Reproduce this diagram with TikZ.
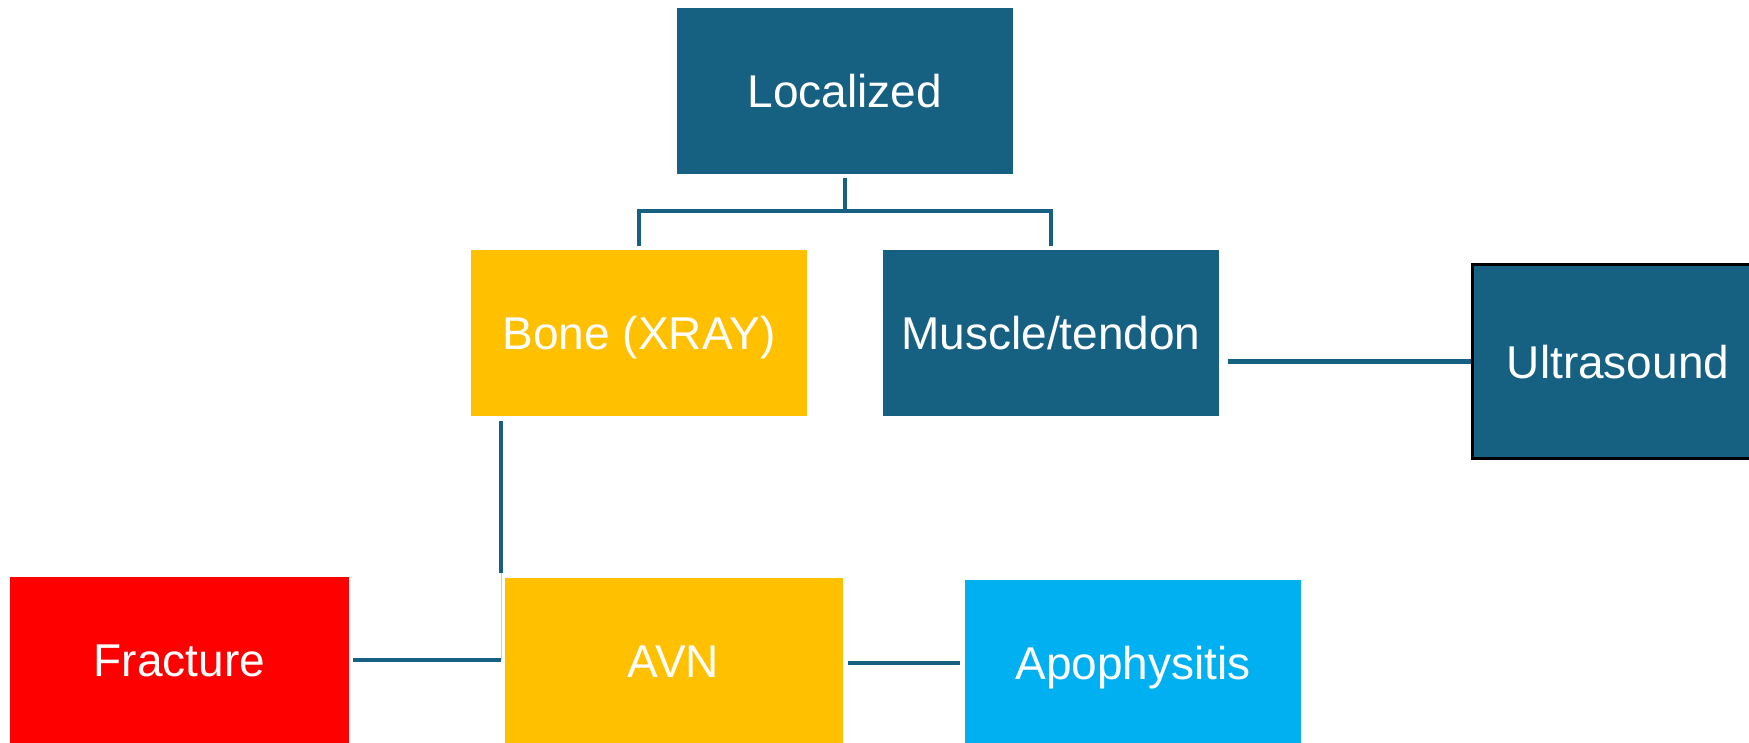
\documentclass[tikz,border=0pt]{standalone}
\usepackage{fontspec}
\setmainfont{Liberation Sans}
\definecolor{darkteal}{RGB}{22,96,130}
\definecolor{amber}{RGB}{255,192,0}
\definecolor{skyblue}{RGB}{0,176,240}

\begin{document}
\begin{tikzpicture}[x=1pt,y=-1pt]
        \tikzset{box/.style = {shape=rectangle,inner sep=0pt,minimum width=336pt,minimum height=166pt,text=white,text height=33pt,text depth=0pt,font=\fontsize{46}{55}\selectfont}}
        \tikzset{edge/.style = {draw=darkteal, line width=4.5pt}}
        \clip (0,0) rectangle (1749,742);
        % vertices
        \node[box, fill=darkteal] (localized) at (845,91) {Localized};
        \node[box, fill=amber] (bonexray) at (639,333) {Bone (XRAY)};
        \node[box, fill=darkteal] (muscletendon) at (1051,333) {Muscle/tendon};
        \node[box, fill=darkteal, draw=black, line width=3pt, minimum width=291pt, minimum height=194pt] (ultrasound) at (1618,361.5) {Ultrasound};
        \node[box, fill=red, minimum width=339pt] (fracture) at (179.5,660) {Fracture};
        \node[box, fill=amber, minimum width=338pt] (avn) at (673.5,661) {AVN};
        \node[box, fill=skyblue] (apophysitis) at (1133,663) {Apophysitis};
        \coordinate (knee) at (501,573);
        \coordinate (bend) at (501,660);
        %edges
        \draw[edge, line width=3.5pt, shorten <=4pt, shorten >=4pt] (localized.south) -- ++(0,37) -| (bonexray.north);
        \draw[edge, line width=3.5pt, shorten <=4pt, shorten >=4pt] (localized.south) -- ++(0,37) -| (muscletendon.north);
        \draw[edge, shorten <=9pt] (muscletendon.east |- ultrasound.west) -- (ultrasound.west);
        \draw[edge, shorten <=5pt] (bonexray.south -| knee) -- (knee);
        \draw[edge, line width=1pt, draw=darkteal!30] (knee) -- (bend);
        \draw[edge, shorten >=4pt] (bend) -- (fracture.east);
        \draw[edge, shorten <=5pt, shorten >=5pt] (avn.east |- apophysitis) -- (apophysitis.west);
    \end{tikzpicture}
\end{document}
